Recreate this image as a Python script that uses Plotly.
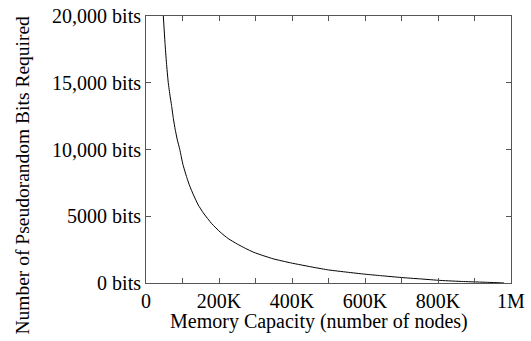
import plotly.graph_objects as go

# Memory capacity (nodes) and pseudorandom bits required
capacity_k = [47.5, 52, 56, 61, 66, 70, 75, 80, 86, 92.6, 101, 111.8, 120, 130, 143,
              157, 180, 203, 225, 250, 272, 295, 320, 350, 396, 460, 500, 551, 600, 643,
              700, 750, 808, 870, 936, 981]
bits = [20000, 18000, 16500, 15000, 14000, 13300, 12300, 11500, 10700, 10000, 8900,
        7900, 7250, 6600, 5850, 5250, 4450, 3820, 3330, 2920, 2600, 2300, 2060, 1800,
        1510, 1170, 980, 810, 660, 550, 410, 310, 190, 110, 50, 0]
capacity = [v * 1000 for v in capacity_k]

x_tickvals = [0, 200000, 400000, 600000, 800000, 1000000]
x_ticktext = ["0", "200K", "400K", "600K", "800K", "1M"]
x_minor_ticks = [100000, 300000, 500000, 700000, 900000]
y_tickvals = [0, 5000, 10000, 15000, 20000]
y_ticktext = ["0 bits", "5000 bits", "10,000 bits", "15,000 bits", "20,000 bits"]

FONT = "Liberation Serif"
FS = 20

fig = go.Figure()
fig.add_trace(go.Scatter(x=capacity, y=bits, mode="lines",
                         line=dict(color="black", width=1, shape="spline", smoothing=0.5),
                         showlegend=False))

axis_common = dict(showgrid=False, zeroline=False, showline=True, linecolor="#555555",
                   linewidth=1, mirror="allticks", ticks="inside", ticklen=5,
                   tickcolor="#555555", ticklabeloverflow="allow",
                   tickfont=dict(family=FONT, size=FS, color="black"))

fig.update_xaxes(range=[0, 1000000], tickvals=x_tickvals + x_minor_ticks,
                 ticktext=x_ticktext + [""] * len(x_minor_ticks), **axis_common)
fig.update_yaxes(range=[0, 20000], tickvals=y_tickvals, ticktext=y_ticktext, **axis_common)

fig.add_annotation(text="Memory Capacity (number of nodes)", xref="paper", yref="paper",
                   x=0.473, y=-0.144, xanchor="center", yanchor="middle", showarrow=False,
                   font=dict(family=FONT, size=FS, color="black"))
fig.add_annotation(text="Number of Pseudorandom Bits Required", xref="paper", yref="paper",
                   x=-0.337, y=0.406, xanchor="center", yanchor="middle", showarrow=False,
                   textangle=-90, font=dict(family=FONT, size=19.5, color="black"))

fig.update_layout(width=531, height=341, margin=dict(l=146, r=20, t=5, b=58),
                  plot_bgcolor="white", paper_bgcolor="white")

fig.write_html("out.html", config={"displayModeBar": False},
               post_script="document.body.style.margin='0';")
